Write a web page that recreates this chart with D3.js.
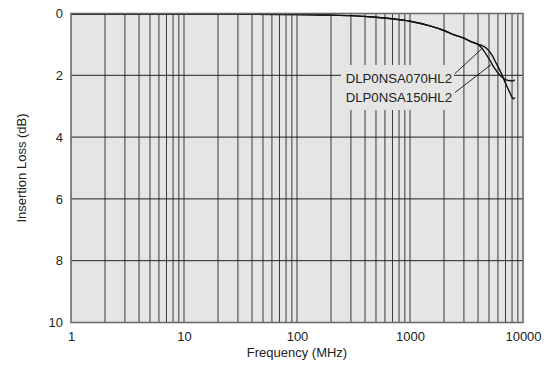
<!DOCTYPE html>
<html>
<head>
<meta charset="utf-8">
<script src="https://cdn.jsdelivr.net/npm/d3@7"></script>
<style>
  html, body { margin: 0; padding: 0; background: #ffffff; }
  svg { display: block; }
  text { font-family: "Liberation Sans", Arial, Helvetica, sans-serif; fill: #222; }
</style>
</head>
<body>
<svg id="chart" width="547" height="369"></svg>
<script>
// ---- data ----
const xTickValues = [1, 10, 100, 1000, 10000];
const yTickValues = [0, 2, 4, 6, 8, 10];
const seriesNames = ["DLP0NSA070HL2", "DLP0NSA150HL2"];
// shared low-frequency part (MHz, dB)
const freqCommon = [1, 10, 100, 200, 300, 500, 700, 1000, 1500, 2000, 2500, 3000, 3500, 4000];
const lossCommon = [0.02, 0.02, 0.03, 0.05, 0.07, 0.12, 0.17, 0.25, 0.4, 0.55, 0.7, 0.8, 0.92, 1.0];
// DLP0NSA070HL2 high-frequency part
const freq070 = [4200, 4600, 5100, 5650, 6450, 7400, 8200, 8450];
const loss070 = [1.07, 1.26, 1.52, 1.79, 2.05, 2.17, 2.18, 2.14];
// DLP0NSA150HL2 high-frequency part
const freq150 = [4300, 4800, 5300, 5700, 6260, 6930, 7670, 8200, 8450];
const loss150 = [1.03, 1.14, 1.34, 1.56, 1.85, 2.22, 2.57, 2.76, 2.72];
// label leader-line targets on the curves (MHz, dB)
const leaderFreq = [4320, 5200];
const leaderLoss = [1.14, 1.66];

// ---- layout ----
const L = 71, R = 523, T = 13.5, B = 322.5;
const svg = d3.select("#chart");
const x = d3.scaleLog().domain([1, 10000]).range([L, R]);
const y = d3.scaleLinear().domain([0, 10]).range([T, B]);

// plot background
svg.append("rect").attr("x", L).attr("y", T).attr("width", R - L).attr("height", B - T)
  .attr("fill", "#e5e5e5");

// vertical grid (1..9 per decade)
const vgrid = [];
for (let d = 1; d < 10000; d *= 10) for (let k = 1; k <= 9; k++) vgrid.push(d * k);
svg.append("g").selectAll("line").data(vgrid.filter(v => v > 1 && v < 10000)).join("line")
  .attr("x1", d => x(d)).attr("x2", d => x(d)).attr("y1", T).attr("y2", B)
  .attr("stroke", "#3a3a3a").attr("stroke-width", 1);

// horizontal grid
svg.append("g").selectAll("line").data(yTickValues.filter(v => v > 0 && v < 10)).join("line")
  .attr("x1", L).attr("x2", R).attr("y1", d => y(d)).attr("y2", d => y(d))
  .attr("stroke", "#222").attr("stroke-width", 1);

// label background (hides grid behind labels)
svg.append("rect").attr("x", 341).attr("y", 65).attr("width", 113).attr("height", 45)
  .attr("fill", "#e5e5e5");

// labels
const labelY = [83.3, 102.3];
svg.append("g").selectAll("text").data(seriesNames).join("text")
  .attr("x", 452).attr("y", (d, i) => labelY[i]).attr("text-anchor", "end")
  .attr("font-size", 13.2).text(d => d);

// leader lines
const leaderStart = [[455, 73.5], [455, 92.5]];
svg.append("g").selectAll("line").data(leaderFreq).join("line")
  .attr("x1", (d, i) => leaderStart[i][0]).attr("y1", (d, i) => leaderStart[i][1])
  .attr("x2", (d, i) => x(d)).attr("y2", (d, i) => y(leaderLoss[i]))
  .attr("stroke", "#111").attr("stroke-width", 0.9);

// curves
const line = d3.line().x(d => x(d[0])).y(d => y(d[1])).curve(d3.curveMonotoneX);
const s070 = freqCommon.map((f, i) => [f, lossCommon[i]]).concat(freq070.map((f, i) => [f, loss070[i]]));
const s150 = freqCommon.map((f, i) => [f, lossCommon[i]]).concat(freq150.map((f, i) => [f, loss150[i]]));
svg.append("g").selectAll("path").data([s070, s150]).join("path")
  .attr("d", line).attr("fill", "none").attr("stroke", "#111").attr("stroke-width", 1.4);

// frame
svg.append("rect").attr("x", L).attr("y", T).attr("width", R - L).attr("height", B - T)
  .attr("fill", "none").attr("stroke", "#6a6a6a").attr("stroke-width", 1.6);

// axes (labels only)
const xAxis = d3.axisBottom(x).tickValues(xTickValues).tickSize(0).tickPadding(9)
  .tickFormat(d3.format("d"));
const gx = svg.append("g").attr("transform", `translate(0,${B})`).call(xAxis);
gx.select(".domain").remove();
gx.selectAll("text").attr("font-size", 13).attr("fill", "#222")
  .attr("font-family", "'Liberation Sans', Arial, sans-serif");

const yAxis = d3.axisLeft(y).tickValues(yTickValues).tickSize(0).tickPadding(8)
  .tickFormat(d3.format("d"));
const gy = svg.append("g").attr("transform", `translate(${L},0)`).call(yAxis);
gy.select(".domain").remove();
gy.selectAll("text").attr("font-size", 13).attr("fill", "#222")
  .attr("font-family", "'Liberation Sans', Arial, sans-serif");

// axis titles
svg.append("text").attr("x", (L + R) / 2).attr("y", 356.5).attr("text-anchor", "middle")
  .attr("font-size", 13).text("Frequency (MHz)");
svg.append("text").attr("transform", `translate(26,${(T + B) / 2}) rotate(-90)`)
  .attr("text-anchor", "middle").attr("font-size", 13).text("Insertion Loss (dB)");
</script>
</body>
</html>
